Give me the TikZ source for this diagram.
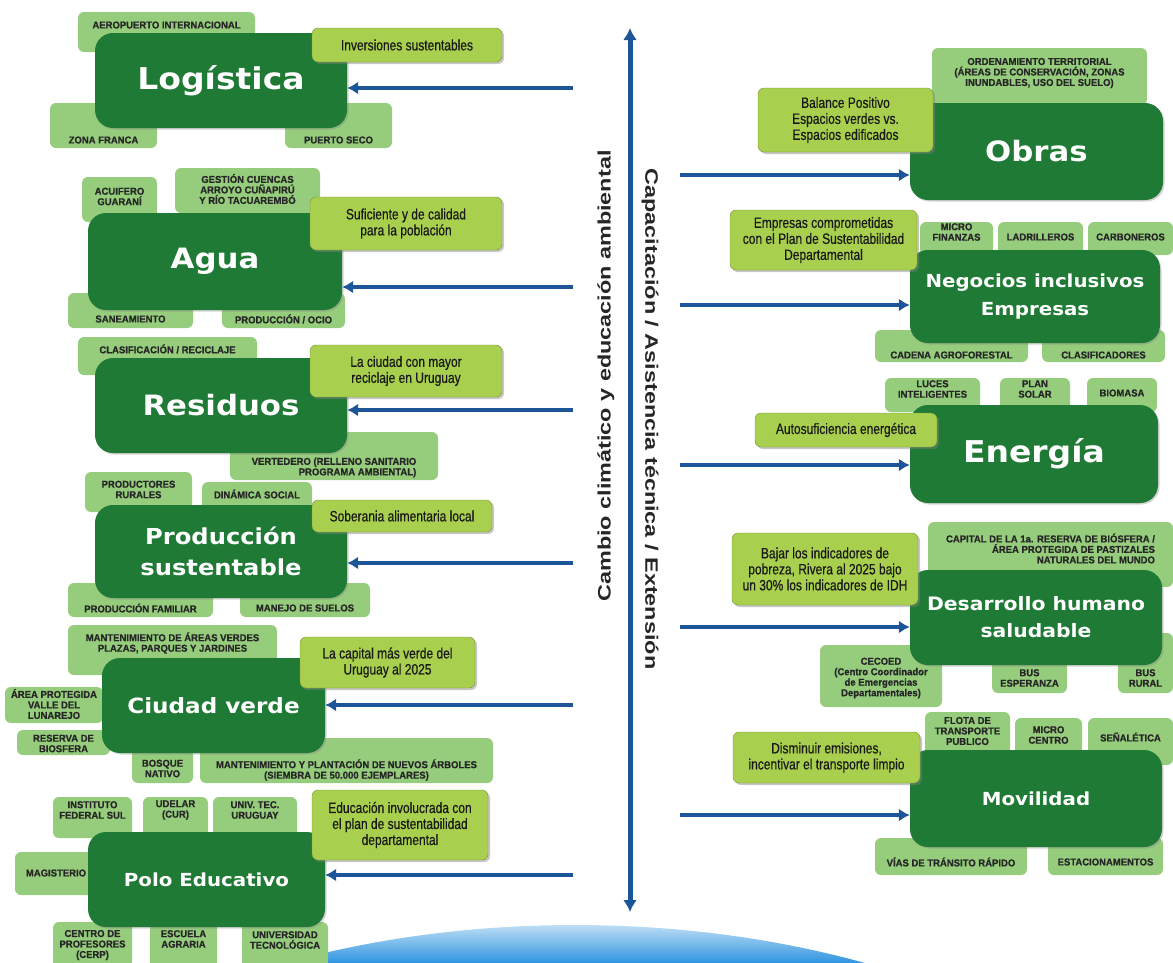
\documentclass[tikz,border=0pt]{standalone}
\usepackage{fontspec}
\setmainfont{Liberation Sans}
\newfontfamily\titulofont[FakeStretch=1.1]{DejaVu Sans}
\newfontfamily\angostafont[FakeStretch=0.8, FakeBold=0.5]{Liberation Sans}
\newfontfamily\etiquetafont[FakeStretch=0.95, BoldFeatures={FakeBold=0.8}]{Liberation Sans}
\newfontfamily\ejefont[FakeStretch=1.3]{Liberation Sans}
\usetikzlibrary{arrows.meta, shadows, positioning}

\definecolor{verdeosc}{RGB}{30,122,52}
\definecolor{verdeclaro}{RGB}{150,205,125}
\definecolor{lima}{RGB}{168,208,78}
\definecolor{azul}{RGB}{28,86,152}
\definecolor{cielo}{RGB}{50,150,225}

\tikzset{
  eje/.style 2 args={fill=verdeosc, rounded corners=18pt, text=white, align=center,
    font=\titulofont\bfseries\fontsize{#1}{#2}\selectfont,
    drop shadow={shadow xshift=1.5pt, shadow yshift=-1.5pt, opacity=.35}},
  meta/.style={fill=lima, draw=lima!70!black, rounded corners=6pt, align=center, text=black!90,
    font=\angostafont\fontsize{15}{16}\selectfont,
    drop shadow={shadow xshift=2pt, shadow yshift=-2pt, opacity=.45}},
  tag/.style={fill=verdeclaro, rounded corners=6pt, inner sep=0pt},
  tagtxt/.style={font=\etiquetafont\bfseries\fontsize{10}{10.5}\selectfont, align=center,
    inner sep=0pt, text=black!85},
  vtxt/.style={font=\ejefont\bfseries\fontsize{18}{20}\selectfont, text=black!85},
  flecha/.style={draw=azul, line width=4pt, -{Latex[length=11pt,width=13pt]}},
  doble/.style={draw=azul, line width=5pt, {Latex[length=12pt,width=14pt]}-{Latex[length=12pt,width=14pt]}}
}

\begin{document}
\begin{tikzpicture}[x=1pt, y=-1pt]
  \useasboundingbox (0,0) rectangle (1173,962);

  % brillo azul abajo
  \begin{scope}
    \clip (575,1300) ellipse [x radius=660, y radius=375];
    \shade[top color=cielo!30, bottom color=cielo] (270,924) rectangle (880,962);
  \end{scope}

  % etiquetas izquierda
  \node[tag, minimum width=177pt, minimum height=40pt, label={[tagtxt, yshift=7pt]center:AEROPUERTO INTERNACIONAL}] (aero) at (166.5,32) {};
  \node[tag, minimum width=107pt, minimum height=45pt, label={[tagtxt, yshift=-14.5pt]center:ZONA FRANCA}] (zona) at (103.5,125.5) {};
  \node[tag, minimum width=107pt, minimum height=45pt, label={[tagtxt, yshift=-14.5pt]center:PUERTO SECO}] (puerto) at (338.5,125.5) {};
  \node[tag, minimum width=75pt, minimum height=45pt, label={[tagtxt, yshift=3pt]center:ACUIFERO\\GUARANÍ}] (acuif) at (119.5,199.5) {};
  \node[tag, minimum width=145pt, minimum height=45pt, label={[tagtxt, yshift=1.5pt]center:GESTIÓN CUENCAS\\ARROYO CUÑAPIRÚ\\Y RÍO TACUAREMBÓ}] (cuencas) at (247.5,190.5) {};
  \node[tag, minimum width=125pt, minimum height=35pt, label={[tagtxt, yshift=-8.5pt]center:SANEAMIENTO}] (sanea) at (130.5,310.5) {};
  \node[tag, minimum width=123pt, minimum height=35pt, label={[tagtxt, yshift=-8.5pt]center:PRODUCCIÓN / OCIO}] (ocio) at (283.5,310.5) {};
  \node[tag, minimum width=179pt, minimum height=38pt, label={[tagtxt, yshift=7pt]center:CLASIFICACIÓN / RECICLAJE}] (clasif) at (167.5,356) {};
  \node[tag, minimum width=208pt, minimum height=48pt, label={[tagtxt, align=right, yshift=-11.5pt]center:VERTEDERO (RELLENO SANITARIO\\PROGRAMA AMBIENTAL)}] (verted) at (334,456) {};
  \node[tag, minimum width=107pt, minimum height=40pt, label={[tagtxt, yshift=2.5pt]center:PRODUCTORES\\RURALES}] (rurales) at (138.5,492) {};
  \node[tag, minimum width=110pt, minimum height=33pt, label={[tagtxt, yshift=4.5pt]center:DINÁMICA SOCIAL}] (dinamica) at (257,498.5) {};
  \node[tag, minimum width=145pt, minimum height=34pt, label={[tagtxt, yshift=-8pt]center:PRODUCCIÓN FAMILIAR}] (familiar) at (140.5,600) {};
  \node[tag, minimum width=130pt, minimum height=34pt, label={[tagtxt, yshift=-8pt]center:MANEJO DE SUELOS}] (suelos) at (305,600) {};
  \node[tag, minimum width=209pt, minimum height=50pt, label={[tagtxt, yshift=7pt]center:{MANTENIMIENTO DE ÁREAS VERDES\\PLAZAS, PARQUES Y JARDINES}}] (areasv) at (172.5,650) {};
  \node[tag, minimum width=98pt, minimum height=36pt, label={[tagtxt, yshift=1pt]center:ÁREA PROTEGIDA\\VALLE DEL\\LUNAREJO}] (lunarejo) at (54,705) {};
  \node[tag, minimum width=93pt, minimum height=25pt, label={[tagtxt, yshift=-1pt]center:RESERVA DE\\BIOSFERA}] (biosfera) at (63.5,742.5) {};
  \node[tag, minimum width=61pt, minimum height=38pt, label={[tagtxt, yshift=-4.5pt]center:BOSQUE\\NATIVO}] (bosque) at (162.5,764) {};
  \node[tag, minimum width=293pt, minimum height=45pt, label={[tagtxt, yshift=-9.5pt]center:MANTENIMIENTO Y PLANTACIÓN DE NUEVOS ÁRBOLES\\(SIEMBRA DE 50.000 EJEMPLARES)}] (arboles) at (346.5,760.5) {};
  \node[tag, minimum width=79pt, minimum height=41pt, label={[tagtxt, yshift=7.5pt]center:INSTITUTO\\FEDERAL SUL}] (instituto) at (92.5,817.5) {};
  \node[tag, minimum width=65pt, minimum height=41pt, label={[tagtxt, yshift=7.5pt]center:UDELAR\\(CUR)}] (udelar) at (175.5,817.5) {};
  \node[tag, minimum width=84pt, minimum height=41pt, label={[tagtxt, yshift=7.5pt]center:UNIV. TEC.\\URUGUAY}] (univtec) at (255,817.5) {};
  \node[tag, minimum width=82pt, minimum height=43pt, label={[tagtxt, yshift=0.5pt]center:MAGISTERIO}] (magist) at (56,873.5) {};
  \node[tag, minimum width=79pt, minimum height=46pt, label={[tagtxt]center:CENTRO DE\\PROFESORES\\(CERP)}] (cerp) at (92.5,945) {};
  \node[tag, minimum width=67pt, minimum height=46pt, label={[tagtxt, yshift=6pt]center:ESCUELA\\AGRARIA}] (agraria) at (183.5,945) {};
  \node[tag, minimum width=86pt, minimum height=46pt, label={[tagtxt, yshift=5pt]center:UNIVERSIDAD\\TECNOLÓGICA}] (utec) at (285,945) {};

  % etiquetas derecha
  \node[tag, minimum width=215pt, minimum height=57pt, label={[tagtxt, yshift=3.5pt]center:{ORDENAMIENTO TERRITORIAL\\(ÁREAS DE CONSERVACIÓN, ZONAS\\INUNDABLES, USO DEL SUELO)}}] (ordenam) at (1039.5,76.5) {};
  \node[tag, minimum width=73pt, minimum height=33pt, label={[tagtxt, yshift=6.5pt]center:MICRO\\FINANZAS}] (microfin) at (956.5,238.5) {};
  \node[tag, minimum width=85pt, minimum height=33pt, label={[tagtxt, yshift=1.5pt]center:LADRILLEROS}] (ladrill) at (1040.5,238.5) {};
  \node[tag, minimum width=85pt, minimum height=33pt, label={[tagtxt, yshift=1.5pt]center:CARBONEROS}] (carbon) at (1130.5,238.5) {};
  \node[tag, minimum width=153pt, minimum height=32pt, label={[tagtxt, yshift=-9pt]center:CADENA AGROFORESTAL}] (cadena) at (951.5,346) {};
  \node[tag, minimum width=123pt, minimum height=32pt, label={[tagtxt, yshift=-9pt]center:CLASIFICADORES}] (clasifi) at (1103.5,346) {};
  \node[tag, minimum width=95pt, minimum height=34pt, label={[tagtxt, yshift=6pt]center:LUCES\\INTELIGENTES}] (luces) at (932.5,395) {};
  \node[tag, minimum width=70pt, minimum height=34pt, label={[tagtxt, yshift=6pt]center:PLAN\\SOLAR}] (solar) at (1035,395) {};
  \node[tag, minimum width=70pt, minimum height=34pt, label={[tagtxt, yshift=2pt]center:BIOMASA}] (biomasa) at (1122,395) {};
  \node[tag, minimum width=245pt, minimum height=65pt, label={[tagtxt, align=right, yshift=6pt]center:CAPITAL DE LA 1a. RESERVA DE BIÓSFERA /\\ÁREA PROTEGIDA DE PASTIZALES\\NATURALES DEL MUNDO}] (capital) at (1050.5,554.5) {};
  \node[tag, minimum width=122pt, minimum height=62pt, label={[tagtxt, yshift=-2pt]center:CECOED\\(Centro Coordinador\\de Emergencias\\Departamentales)}] (cecoed) at (881,676) {};
  \node[tag, minimum width=75pt, minimum height=36pt, label={[tagtxt, yshift=-3pt]center:BUS\\ESPERANZA}] (busesp) at (1029.5,675) {};
  \node[tag, minimum width=55pt, minimum height=60pt, label={[tagtxt, yshift=-15pt]center:BUS\\RURAL}] (busrural) at (1145.5,663) {};
  \node[tag, minimum width=85pt, minimum height=43pt, label={[tagtxt, yshift=2.5pt]center:FLOTA DE\\TRANSPORTE\\PUBLICO}] (flota) at (967.5,733.5) {};
  \node[tag, minimum width=67pt, minimum height=37pt, label={[tagtxt, yshift=1.5pt]center:MICRO\\CENTRO}] (microc) at (1048.5,736.5) {};
  \node[tag, minimum width=85pt, minimum height=47pt, label={[tagtxt, yshift=4.5pt]center:SEÑALÉTICA}] (senal) at (1130.5,741.5) {};
  \node[tag, minimum width=152pt, minimum height=37pt, label={[tagtxt, yshift=-5.5pt]center:VÍAS DE TRÁNSITO RÁPIDO}] (vias) at (951,856.5) {};
  \node[tag, minimum width=115pt, minimum height=37pt, label={[tagtxt, yshift=-5.5pt]center:ESTACIONAMENTOS}] (estac) at (1105.5,856.5) {};

  % ejes tematicos
  \node[eje={30}{34}, minimum width=252pt, minimum height=95pt] (log) at (221,80.5) {Logística};
  \node[eje={28}{32}, minimum width=254pt, minimum height=97pt] (agua) at (215,261.5) {Agua};
  \node[eje={28}{32}, minimum width=252pt, minimum height=95pt] (res) at (221,405.5) {Residuos};
  \node[eje={22}{31}, minimum width=252pt, minimum height=93pt] (prod) at (221,551.5) {Producción\\sustentable};
  \node[eje={21}{25}, minimum width=223pt, minimum height=95pt] (ciudad) at (213.5,705.5) {Ciudad verde};
  \node[eje={18}{22}, minimum width=237pt, minimum height=95pt] (polo) at (206.5,879.5) {Polo Educativo};
  \node[eje={28}{32}, minimum width=253pt, minimum height=97pt] (obras) at (1036.5,151.5) {Obras};
  \node[eje={18}{28}, minimum width=250pt, minimum height=93pt] (neg) at (1035,296.5) {Negocios inclusivos\\Empresas};
  \node[eje={30}{34}, minimum width=248pt, minimum height=98pt] (ener) at (1034,454) {Energía};
  \node[eje={18.5}{27}, minimum width=252pt, minimum height=95pt] (desa) at (1036,617.5) {Desarrollo humano\\saludable};
  \node[eje={18}{22}, minimum width=252pt, minimum height=97pt] (movi) at (1036,798.5) {Movilidad};

  % metas
  \node[meta, minimum width=190pt, minimum height=34pt] (inv) at (407,45) {Inversiones sustentables};
  \node[meta, minimum width=192pt, minimum height=53pt] (sufi) at (406,223.5) {Suficiente y de calidad\\para la población};
  \node[meta, minimum width=192pt, minimum height=52pt] (recic) at (406,371) {La ciudad con mayor\\reciclaje en Uruguay};
  \node[meta, minimum width=180pt, minimum height=32pt] (sober) at (402,516) {Soberania alimentaria local};
  \node[meta, minimum width=175pt, minimum height=51pt] (capverde) at (387.5,662.5) {La capital más verde del\\Uruguay al 2025};
  \node[meta, minimum width=176pt, minimum height=70pt] (educ) at (400,825) {Educación involucrada con\\el plan de sustentabilidad\\departamental};
  \node[meta, minimum width=175pt, minimum height=64pt] (balance) at (845.5,120) {Balance Positivo\\Espacios verdes vs.\\Espacios edificados};
  \node[meta, minimum width=187pt, minimum height=60pt] (empresas) at (823.5,240) {Empresas comprometidas\\con el Plan de Sustentabilidad\\Departamental};
  \node[meta, minimum width=182pt, minimum height=34pt] (autosuf) at (846,430) {Autosuficiencia energética};
  \node[meta, minimum width=186pt, minimum height=72pt] (bajar) at (825,569) {Bajar los indicadores de\\pobreza, Rivera al 2025 bajo\\un 30\% los indicadores de IDH};
  \node[meta, minimum width=187pt, minimum height=51pt] (dismin) at (826.5,757.5) {Disminuir emisiones,\\incentivar el transporte limpio};

  % eje central
  \coordinate (ejesup) at (630,28);
  \coordinate (ejeinf) at (630,912);
  \draw[doble] (ejesup) -- (ejeinf);
  \node[vtxt, rotate=90] (cambio) at (606,376) {Cambio climático y educación ambiental};
  \node[vtxt, rotate=-90] (capac) at (650,419) {Capacitación / Asistencia técnica / Extensión};

  % flechas
  \coordinate (la1) at (573,88);
  \coordinate (la2) at (573,287);
  \coordinate (la3) at (573,410);
  \coordinate (la4) at (573,563);
  \coordinate (la5) at (573,705);
  \coordinate (la6) at (573,875);
  \draw[flecha] (la1) -- (la1 -| log.east);
  \draw[flecha] (la2) -- (la2 -| agua.east);
  \draw[flecha] (la3) -- (la3 -| res.east);
  \draw[flecha] (la4) -- (la4 -| prod.east);
  \draw[flecha] (la5) -- (la5 -| ciudad.east);
  \draw[flecha] (la6) -- (la6 -| polo.east);
  \coordinate (ra1) at (680,175);
  \coordinate (ra2) at (680,305);
  \coordinate (ra3) at (680,465);
  \coordinate (ra4) at (680,627);
  \coordinate (ra5) at (680,815);
  \draw[flecha] (ra1) -- (ra1 -| obras.west);
  \draw[flecha] (ra2) -- (ra2 -| neg.west);
  \draw[flecha] (ra3) -- (ra3 -| ener.west);
  \draw[flecha] (ra4) -- (ra4 -| desa.west);
  \draw[flecha] (ra5) -- (ra5 -| movi.west);
\end{tikzpicture}
\end{document}
